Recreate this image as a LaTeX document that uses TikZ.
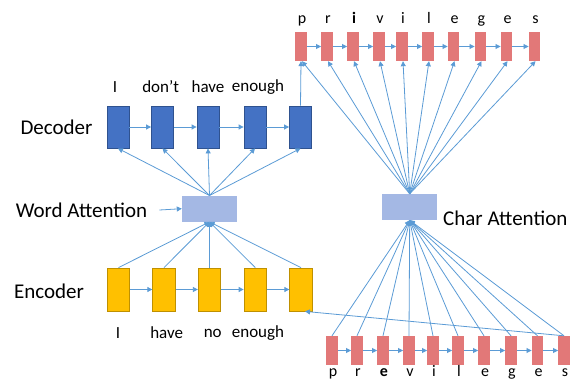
\documentclass[tikz,border=0pt]{standalone}
\usepackage{fontspec}
\setmainfont{Carlito}
\usetikzlibrary{arrows.meta,calc}
\definecolor{lblue}{HTML}{5B9BD5}
\definecolor{decfill}{HTML}{4472C4}
\definecolor{decdraw}{HTML}{2F528F}
\definecolor{encfill}{HTML}{FFC000}
\definecolor{encdraw}{HTML}{BF9000}
\definecolor{attfill}{HTML}{A4B8E4}
\definecolor{chfill}{HTML}{E27878}
\tikzset{
  decbox/.style={rectangle,fill=decfill,draw=decdraw,line width=0.8pt,minimum width=22pt,minimum height=42pt,inner sep=0pt},
  encbox/.style={rectangle,fill=encfill,draw=encdraw,line width=0.8pt,minimum width=22.5pt,minimum height=43pt,inner sep=0pt},
  attbox/.style={rectangle,fill=attfill,minimum width=55pt,minimum height=26pt,inner sep=0pt},
  chbox/.style={rectangle,fill=chfill,minimum width=11.5pt,minimum height=29pt,inner sep=0pt},
  conn/.style={draw=lblue,line width=0.8pt,-{Triangle[length=5pt,width=5pt]}},
  biglabel/.style={font=\fontsize{21}{23}\selectfont,inner sep=0pt},
  wordlabel/.style={font=\fontsize{17}{19}\selectfont,inner sep=0pt},
  letlabel/.style={font=\fontsize{16}{18}\selectfont,inner sep=0pt}
}
\begin{document}
\begin{tikzpicture}[x=1pt,y=-1pt]
\useasboundingbox (0,0) rectangle (574,381);
% decoder
\foreach \i/\x in {1/118,2/162.5,3/208,4/255,5/300.5}
  \node[decbox] (d\i) at (\x,127) {};
% encoder
\foreach \i/\x in {1/118.5,2/164,3/209.5,4/255.3,5/301}
  \node[encbox] (e\i) at (\x,289.5) {};
% attention
\node[attbox] (wa) at (209.5,208.7) {};
\node[attbox] (ca) at (409.7,207) {};
% char boxes
\foreach \i/\x in {1/301,2/327,3/353,4/379,5/402,6/428,7/453.5,8/480.5,9/506.5,10/534.5}
  \node[chbox] (t\i) at (\x,46.5) {};
\foreach \i/\x in {1/332,2/357,3/383,4/409,5/433,6/458,7/484,8/511,9/537.5,10/564}
  \node[chbox] (b\i) at (\x,350.5) {};
% labels
\node[biglabel] (ldec) at (56.5,127) {Decoder};
\node[biglabel] (lwa) at (81.5,210) {Word Attention};
\node[biglabel] (lenc) at (49,291) {Encoder};
\node[biglabel,anchor=west] (lca) at (443,218) {Char Attention};
% word labels
\node[wordlabel] (dw1) at (115,87) {I};
\node[wordlabel] (dw2) at (160.7,87) {don’t};
\node[wordlabel] (dw3) at (208,87) {have};
\node[wordlabel] (dw4) at (258,87) {enough};
\node[wordlabel] (ew1) at (118,333) {I};
\node[wordlabel] (ew2) at (166.7,333) {have};
\node[wordlabel] (ew3) at (212.7,333) {no};
\node[wordlabel] (ew4) at (258,333) {enough};
% letters
\foreach \i/\c in {1/p,2/r,3/\textbf{i},4/v,5/i,6/l,7/e,8/g,9/e,10/s}
  \node[letlabel,anchor=base] (tl\i) at ($(t\i)+(1,-23)$) {\c};
\foreach \i/\c in {1/p,2/r,3/\textbf{e},4/v,5/i,6/l,7/e,8/g,9/e,10/s}
  \node[letlabel,anchor=base] (bl\i) at ($(b\i)+(1,26)$) {\c};
% horizontal chains
\foreach \a/\b in {1/2,2/3,3/4,4/5}{
  \draw[conn] (d\a) -- (d\b);
  \draw[conn] (e\a) -- (e\b);
}
\foreach \a/\b in {1/2,2/3,3/4,4/5,5/6,6/7,7/8,8/9,9/10}{
  \draw[conn] (t\a) -- (t\b);
  \draw[conn] (b\a) -- (b\b);
}
% word attention
\foreach \i in {1,...,5}{
  \draw[conn] (wa.north) -- (d\i.south);
  \draw[conn] (e\i.north) -- (wa.south);
}
\draw[conn] ($(lwa.east)+(12,0)$) -- (wa.west);
% char attention
\foreach \i in {1,...,10}{
  \draw[conn] (ca.north) -- ([xshift=1pt]t\i.south);
  \draw[conn] (b\i.north) -- (ca.south);
}
\draw[conn] (d5.north) -- (t1.south);
\draw[conn] (b10.north) -- ([xshift=4pt]e5.south);
\end{tikzpicture}
\end{document}
